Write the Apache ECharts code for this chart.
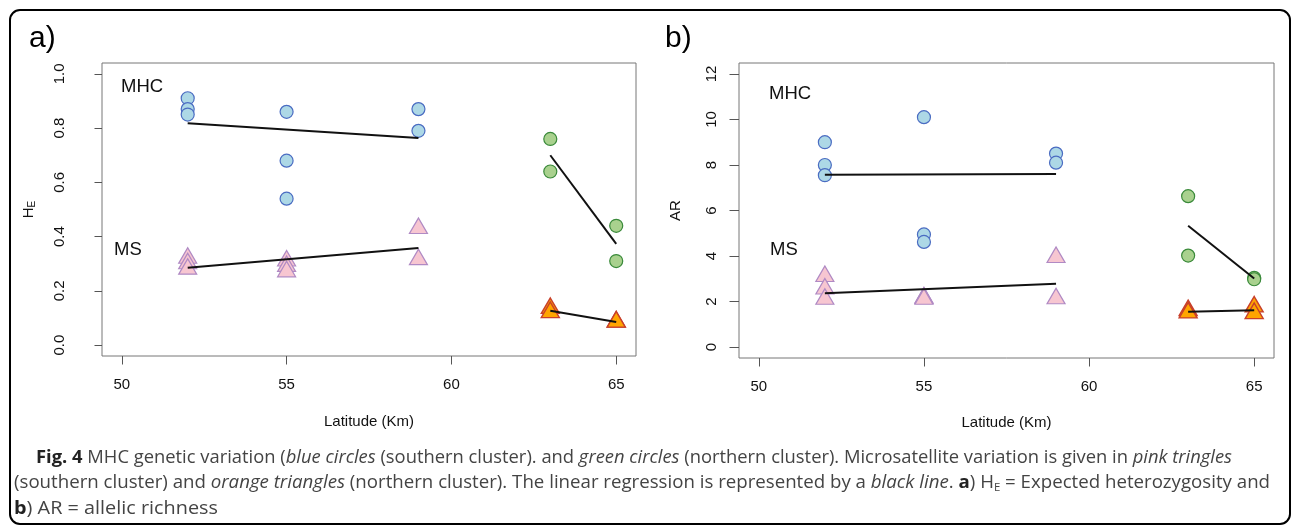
<!DOCTYPE html>
<html>
<head>
<meta charset="utf-8">
<script src="https://cdn.jsdelivr.net/npm/echarts@6/dist/echarts.min.js"></script>
<style>
  html, body { margin: 0; padding: 0; background: #fff; }
  #page { position: relative; width: 1293px; height: 526px; overflow: hidden; }
  #frame { position: absolute; left: 9px; top: 9px; width: 1282px; height: 516px; box-sizing: border-box;
           border: 2px solid #000; border-radius: 11px; }
  #chart { position: absolute; left: 0; top: 0; width: 1293px; height: 526px; }
  .cap { position: absolute; white-space: nowrap; font-family: 'Open Sans', 'Noto Sans', sans-serif;
         font-size: 18px; line-height: 20px; color: #444; transform-origin: 0 50%; }
  .cap b { font-weight: 700; color: #222; }
  .cap sub { font-size: 11px; vertical-align: -3px; line-height: 0; }
</style>
</head>
<body>
<div id="page">
  <div id="frame"></div>
  <div id="chart"></div>
  <div class="cap" id="cap1" style="left:36px; top:446px" data-w="1196"><b>Fig. 4</b> MHC genetic variation (<i>blue circles</i> (southern cluster). and <i>green circles</i> (northern cluster). Microsatellite variation is given in <i>pink tringles</i></div>
  <div class="cap" id="cap2" style="left:14px; top:471px" data-w="1256">(southern cluster) and <i>orange triangles</i> (northern cluster). The linear regression is represented by a <i>black line</i>. <b>a</b>) H<sub>E</sub> = Expected heterozygosity and</div>
  <div class="cap" id="cap3" style="left:14px; top:497px" data-w="204"><b>b</b>) AR = allelic richness</div>
</div>
<script>
  // tick labels
  var latTicks = [50, 55, 60, 65]
  var heTicks = [0, 0.2, 0.4, 0.6, 0.8, 1.0]
  var arTicks = [0, 2, 4, 6, 8, 10, 12]

  // a) expected heterozygosity, [latitude, HE]
  var heMhcSouth = [[52, 0.91], [52, 0.87], [52, 0.85], [55, 0.86], [55, 0.68], [55, 0.54], [59, 0.87], [59, 0.79]]
  var heMhcNorth = [[63, 0.76], [63, 0.64], [65, 0.44], [65, 0.31]]
  var heMsSouth = [[52, 0.32], [52, 0.30], [52, 0.28], [55, 0.31], [55, 0.29], [55, 0.27], [59, 0.43], [59, 0.315]]
  var heMsNorth = [[63, 0.135], [63, 0.12], [65, 0.085], [65, 0.085]]
  var heMhcSouthFit = [[52, 0.818], [59, 0.764]]
  var heMhcNorthFit = [[63, 0.70], [65, 0.373]]
  var heMsSouthFit = [[52, 0.285], [59, 0.358]]
  var heMsNorthFit = [[63, 0.127], [65, 0.0855]]

  // b) allelic richness, [latitude, AR]
  var arMhcSouth = [[52, 9.0], [52, 8.0], [52, 7.55], [55, 10.1], [55, 4.95], [55, 4.62], [59, 8.5], [59, 8.1]]
  var arMhcNorth = [[63, 6.63], [63, 4.02], [65, 3.04], [65, 2.98]]
  var arMsSouth = [[52, 3.1], [52, 2.55], [52, 2.1], [55, 2.15], [55, 2.15], [55, 2.1], [59, 3.93], [59, 2.12]]
  var arMsNorth = [[63, 1.6], [63, 1.5], [65, 1.76], [65, 1.47]]
  var arMhcSouthFit = [[52, 7.57], [59, 7.60]]
  var arMhcNorthFit = [[63, 5.33], [65, 3.01]]
  var arMsSouthFit = [[52, 2.36], [59, 2.78]]
  var arMsNorthFit = [[63, 1.55], [65, 1.62]]

  var font = "'Liberation Sans', Arial, Helvetica, sans-serif"
  var tickColor = '#555'
  var textColor = '#111'

  var circleBlue = { symbol: 'circle', symbolSize: 13, itemStyle: { color: '#add8e6', borderColor: '#4a6cc2', borderWidth: 1.2, opacity: 1 } }
  var circleGreen = { symbol: 'circle', symbolSize: 13, itemStyle: { color: '#a9d18e', borderColor: '#3a8a3a', borderWidth: 1.2, opacity: 1 } }
  var triPink = { symbol: 'triangle', symbolSize: [18, 15.5], symbolOffset: [0, -2.8], itemStyle: { color: '#f7c6d1', borderColor: '#b08ac4', borderWidth: 1.2, opacity: 1 } }
  var triOrange = { symbol: 'triangle', symbolSize: [18, 15.5], symbolOffset: [0, -2.8], itemStyle: { color: '#ffa500', borderColor: '#c8402b', borderWidth: 1.4, opacity: 1 } }

  function points(idx, data, style) {
    return Object.assign({ type: 'scatter', xAxisIndex: idx, yAxisIndex: idx, data: data, silent: true, z: 2 }, style)
  }
  function fit(idx, data) {
    return {
      type: 'line', xAxisIndex: idx, yAxisIndex: idx, data: data, symbol: 'none', silent: true, z: 3,
      lineStyle: { color: '#111', width: 2 }
    }
  }
  function xAxis(idx, nameGap) {
    return {
      type: 'value', gridIndex: idx, min: 49.4, max: 65.6,
      name: 'Latitude (Km)', nameLocation: 'middle', nameGap: nameGap,
      nameTextStyle: { fontFamily: font, fontSize: 15, color: textColor },
      axisLine: { show: false, onZero: false },
      splitLine: { show: false },
      axisTick: { show: true, customValues: latTicks, length: 8.5, lineStyle: { color: tickColor } },
      axisLabel: { customValues: latTicks, margin: 21.5, fontFamily: font, fontSize: 15, color: textColor }
    }
  }

  var chart = echarts.init(document.getElementById('chart'), null, { renderer: 'canvas' })
  chart.setOption({
    animation: false,
    backgroundColor: 'transparent',
    grid: [
      { left: 102, top: 63, width: 534, height: 293, show: true, borderColor: '#777', borderWidth: 1, containLabel: false, outerBoundsMode: 'none' },
      { left: 739, top: 63, width: 535, height: 295, show: true, borderColor: '#777', borderWidth: 1, containLabel: false, outerBoundsMode: 'none' }
    ],
    xAxis: [xAxis(0, 58), xAxis(1, 57)],
    yAxis: [{
      type: 'value', gridIndex: 0, min: -0.04, max: 1.04,
      name: '{h|H}{s|E}', nameLocation: 'middle', nameRotate: 90, nameGap: 65,
      nameTextStyle: {
        rich: {
          h: { fontFamily: font, fontSize: 15, lineHeight: 16, color: textColor },
          s: { fontFamily: font, fontSize: 10, lineHeight: 10, verticalAlign: 'bottom', color: textColor }
        }
      },
      axisLine: { show: false, onZero: false },
      splitLine: { show: false },
      axisTick: { show: true, customValues: heTicks, length: 7.5, lineStyle: { color: tickColor } },
      axisLabel: {
        customValues: heTicks, rotate: 90, margin: 35, fontFamily: font, fontSize: 15, color: textColor,
        formatter: function (v) { return v.toFixed(1) }
      }
    }, {
      type: 'value', gridIndex: 1, min: -0.48, max: 12.48,
      name: 'AR', nameLocation: 'middle', nameRotate: 90, nameGap: 56,
      nameTextStyle: { fontFamily: font, fontSize: 15, color: textColor },
      axisLine: { show: false, onZero: false },
      splitLine: { show: false },
      axisTick: { show: true, customValues: arTicks, length: 9.5, lineStyle: { color: tickColor } },
      axisLabel: { customValues: arTicks, rotate: 90, margin: 20, fontFamily: font, fontSize: 15, color: textColor }
    }],
    graphic: [
      { type: 'text', left: 29, top: 24, style: { text: 'a)', font: '30px ' + font, fill: '#000' } },
      { type: 'text', left: 665, top: 24, style: { text: 'b)', font: '30px ' + font, fill: '#000' } },
      { type: 'text', x: 121, y: 87, style: { text: 'MHC', font: '18.5px ' + font, fill: textColor, verticalAlign: 'middle' } },
      { type: 'text', x: 114, y: 249.5, style: { text: 'MS', font: '18.5px ' + font, fill: textColor, verticalAlign: 'middle' } },
      { type: 'text', x: 769, y: 93.5, style: { text: 'MHC', font: '18.5px ' + font, fill: textColor, verticalAlign: 'middle' } },
      { type: 'text', x: 770, y: 250, style: { text: 'MS', font: '18.5px ' + font, fill: textColor, verticalAlign: 'middle' } }
    ],
    series: [
      points(0, heMhcSouth, circleBlue),
      points(0, heMhcNorth, circleGreen),
      points(0, heMsSouth, triPink),
      points(0, heMsNorth, triOrange),
      fit(0, heMhcSouthFit),
      fit(0, heMhcNorthFit),
      fit(0, heMsSouthFit),
      fit(0, heMsNorthFit),
      points(1, arMhcSouth, circleBlue),
      points(1, arMhcNorth, circleGreen),
      points(1, arMsSouth, triPink),
      points(1, arMsNorth, triOrange),
      fit(1, arMhcSouthFit),
      fit(1, arMhcNorthFit),
      fit(1, arMsSouthFit),
      fit(1, arMsNorthFit)
    ]
  })

  // squeeze each caption line to the width it has in the figure
  function fitCaption() {
    document.querySelectorAll('.cap').forEach(function (el) {
      el.style.transform = 'none'
      var w = el.getBoundingClientRect().width
      var target = +el.getAttribute('data-w')
      el.style.transform = 'scaleX(' + (target / w) + ')'
    })
  }
  fitCaption()
  if (document.fonts && document.fonts.ready) document.fonts.ready.then(fitCaption)
</script>
</body>
</html>
